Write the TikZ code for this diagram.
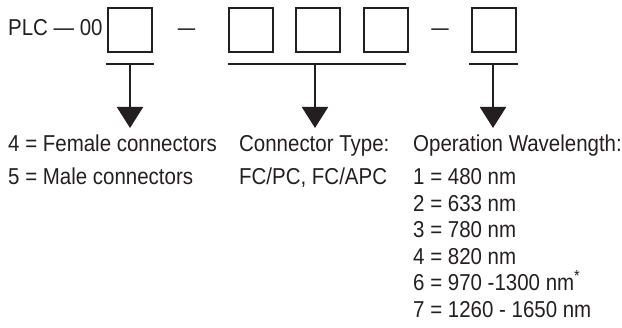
\documentclass[tikz,border=0pt]{standalone}
\usepackage{fontspec}
\setmainfont[FakeStretch=0.89]{Liberation Sans}
\usetikzlibrary{arrows.meta}
\definecolor{ink}{HTML}{231F20}
\newcommand{\colstack}[1]{\vtop{\halign{##\hfil\cr#1\crcr}}}
\begin{document}
\begin{tikzpicture}[x=1pt,y=-1pt,
  box/.style={draw=ink, line width=2pt, minimum width=44pt, minimum height=44pt, inner sep=0pt},
  bar/.style={draw=ink, line width=2pt},
  stem/.style={draw=ink, line width=2pt, -{Triangle[width=26pt,length=21pt]}},
  txt/.style={text=ink, inner sep=0pt, anchor=base west, font=\fontsize{23}{26.6}\selectfont},
  sep/.style={text=ink, inner sep=0pt, anchor=base, font=\fontsize{23}{26.6}\selectfont}]
\useasboundingbox (0,0) rectangle (622,328);
% prefix
\node[txt] (plc) at (8,36) {PLC — 00};
% boxes
\node[box] (b1) at (130,30.5) {};
\node[box] (b2) at (251,30.5) {};
\node[box] (b3) at (318,30.5) {};
\node[box] (b4) at (385.5,30.5) {};
\node[box] (b5) at (493.5,30.5) {};
% separators
\node[sep, xscale=0.85] (d1) at (186.5,36) {—};
\node[sep, xscale=0.85] (d2) at (440,36) {—};
% bars
\draw[bar] (106,64) -- (154,64);
\draw[bar] (228,64) -- (406,64);
\draw[bar] (469,64) -- (518,64);
% stems
\coordinate (s1) at (130,64);
\coordinate (s2) at (315,64);
\coordinate (s3) at (493,64);
\coordinate (t1) at (130,128);
\coordinate (t2) at (315,128);
\coordinate (t3) at (493,128);
\draw[stem] (s1) -- (t1);
\draw[stem] (s2) -- (t2);
\draw[stem] (s3) -- (t3);
% texts
\node[txt] (left) at (8,152) {\colstack{4 = Female connectors\cr\noalign{\vskip 6pt} 5 = Male connectors}};
\node[txt] (mid) at (239,152) {\colstack{Connector Type:\cr\noalign{\vskip 6pt} FC/PC, FC/APC}};
\node[txt] (right) at (413,152) {\colstack{Operation Wavelength:\cr\noalign{\vskip 6pt} 1 = 480 nm\cr 2 = 633 nm\cr 3 = 780 nm\cr 4 = 820 nm\cr 6 = 970 -1300 nm\textsuperscript{*}\cr 7 = 1260 - 1650 nm}};
\end{tikzpicture}
\end{document}
